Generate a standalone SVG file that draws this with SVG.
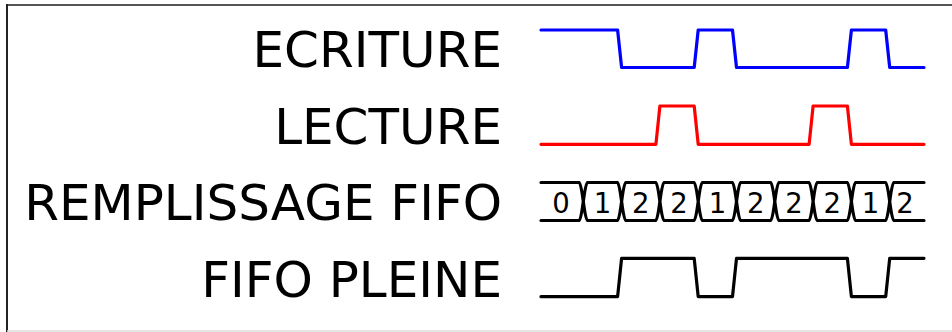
<svg xmlns="http://www.w3.org/2000/svg" width="952" height="332" viewBox="0 0 952 332">
  <style>
    .lbl { font-family: "DejaVu Sans", "Liberation Sans", sans-serif; font-size: 50px; fill: #000; text-anchor: end; }
    .dig { font-family: "DejaVu Sans", "Liberation Sans", sans-serif; font-size: 27.5px; fill: #000; text-anchor: middle; }
    .sig { fill: none; stroke-width: 3.2; stroke-linecap: round; stroke-linejoin: round; }
  </style>
  <rect x="0" y="0" width="952" height="332" fill="#ffffff"/>
  <g id="frame">
    <line x1="6" y1="5" x2="952" y2="5" stroke="#555555" stroke-width="2"/>
    <line x1="7" y1="4" x2="7" y2="332" stroke="#222222" stroke-width="2"/>
    <line x1="7" y1="331" x2="952" y2="331" stroke="#dddddd" stroke-width="1.5"/>
  </g>
  <g id="ecriture">
    <text class="lbl" x="502" y="67">ECRITURE</text>
    <path class="sig" stroke="#0000ff" d="M541,30 H617.6 L621.6,67.5 H694.2 L698.2,30 H732.5 L736.5,67.5 H847.4 L851.4,30 H885.7 L889.7,67.5 H924"/>
  </g>
  <g id="lecture">
    <text class="lbl" x="502" y="144">LECTURE</text>
    <path class="sig" stroke="#ff0000" d="M541,144.3 H655.9 L659.9,106 H694.2 L698.2,144.3 H809.1 L813.1,106 H847.4 L851.4,144.3 H924"/>
  </g>
  <g id="remplissage">
    <text class="lbl" x="502" y="220">REMPLISSAGE FIFO</text>
    <path class="sig" stroke="#000000" d="M541,182.5 H579.3 Q580.8,182.5 583.3,201.5 Q580.8,220.5 579.3,220.5 H541
      M587.3,182.5 H617.6 Q619.1,182.5 621.6,201.5 Q619.1,220.5 617.6,220.5 H587.3 Q585.8,220.5 583.3,201.5 Q585.8,182.5 587.3,182.5 Z
      M625.6,182.5 H655.9 Q657.4,182.5 659.9,201.5 Q657.4,220.5 655.9,220.5 H625.6 Q624.1,220.5 621.6,201.5 Q624.1,182.5 625.6,182.5 Z
      M663.9,182.5 H694.2 Q695.7,182.5 698.2,201.5 Q695.7,220.5 694.2,220.5 H663.9 Q662.4,220.5 659.9,201.5 Q662.4,182.5 663.9,182.5 Z
      M702.2,182.5 H732.5 Q734.0,182.5 736.5,201.5 Q734.0,220.5 732.5,220.5 H702.2 Q700.7,220.5 698.2,201.5 Q700.7,182.5 702.2,182.5 Z
      M740.5,182.5 H770.8 Q772.3,182.5 774.8,201.5 Q772.3,220.5 770.8,220.5 H740.5 Q739.0,220.5 736.5,201.5 Q739.0,182.5 740.5,182.5 Z
      M778.8,182.5 H809.1 Q810.6,182.5 813.1,201.5 Q810.6,220.5 809.1,220.5 H778.8 Q777.3,220.5 774.8,201.5 Q777.3,182.5 778.8,182.5 Z
      M817.1,182.5 H847.4 Q848.9,182.5 851.4,201.5 Q848.9,220.5 847.4,220.5 H817.1 Q815.6,220.5 813.1,201.5 Q815.6,182.5 817.1,182.5 Z
      M855.4,182.5 H885.7 Q887.2,182.5 889.7,201.5 Q887.2,220.5 885.7,220.5 H855.4 Q853.9,220.5 851.4,201.5 Q853.9,182.5 855.4,182.5 Z
      M924,182.5 H893.7 Q892.2,182.5 889.7,201.5 Q892.2,220.5 893.7,220.5 H924"/>
    <text class="dig" x="561" y="213">0</text>
    <text class="dig" x="602.5" y="213">1</text>
    <text class="dig" x="640.8" y="213">2</text>
    <text class="dig" x="679.1" y="213">2</text>
    <text class="dig" x="717.4" y="213">1</text>
    <text class="dig" x="755.7" y="213">2</text>
    <text class="dig" x="794" y="213">2</text>
    <text class="dig" x="832.3" y="213">2</text>
    <text class="dig" x="870.6" y="213">1</text>
    <text class="dig" x="905" y="213">2</text>
  </g>
  <g id="fifo-pleine">
    <text class="lbl" x="502" y="296.5">FIFO PLEINE</text>
    <path class="sig" stroke="#000000" d="M541,296.7 H617.6 L621.6,258.3 H694.2 L698.2,296.7 H732.5 L736.5,258.3 H847.4 L851.4,296.7 H885.7 L889.7,258.3 H924"/>
  </g>
</svg>
